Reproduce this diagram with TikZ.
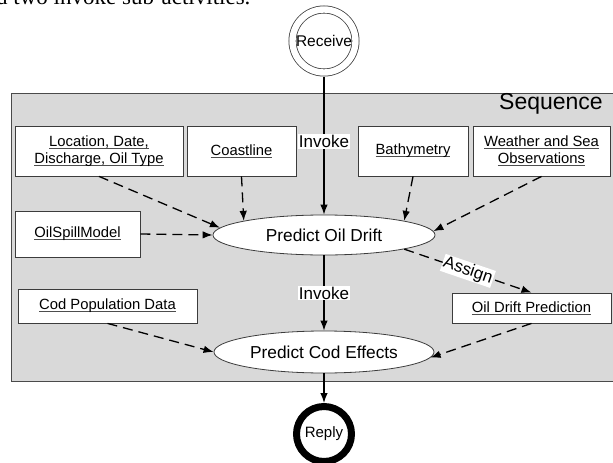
\documentclass[tikz,border=0pt]{standalone}
\usepackage{fontspec}
\setmainfont{Liberation Sans}
\newfontfamily\captionserif{Liberation Serif}
\usetikzlibrary{arrows.meta,shapes.geometric}

\definecolor{seqgray}{HTML}{D9D9D9}
\definecolor{framegray}{HTML}{4A4A4A}
\definecolor{boxline}{HTML}{3C3C3C}
\definecolor{ulcolor}{HTML}{4D4D4D}

% underline at a fixed depth, crossing descenders
\newlength\undlwidth
\newcommand\undl[1]{\settowidth\undlwidth{#1}\rlap{\textcolor{ulcolor}{\rule[-2pt]{\undlwidth}{0.8pt}}}#1}

\tikzset{
  datbox/.style={draw=boxline, line width=0.8pt, fill=white, align=center,
    inner sep=0pt, font=\fontsize{14.8}{17}\selectfont},
  activity/.style={ellipse, draw=boxline, line width=0.8pt, fill=white,
    inner sep=0pt, font=\fontsize{17.3}{20}\selectfont},
  flow/.style={-{Latex[length=10pt,width=7.5pt]}, line width=1.3pt},
  dataflow/.style={flow, dash pattern=on 10pt off 6pt},
  tag/.style={fill=white, inner sep=1pt, font=\fontsize{17}{20}\selectfont},
}

\begin{document}
\begin{tikzpicture}[x=1pt,y=-1pt]
\useasboundingbox (0,0) rectangle (613,463);

% tail of the preceding text line
\begin{scope}
  \clip (0,0) rectangle (613,463);
  \node[anchor=base west, inner sep=0pt, font=\captionserif\fontsize{23}{25}\selectfont]
    (prevline) at (-4,5) {d two invoke sub-activities.};
\end{scope}

% sequence container
\node[draw=framegray, fill=seqgray, line width=0.8pt, inner sep=0pt,
  minimum width=603pt, minimum height=288pt, anchor=north west] (seq) at (11,93) {};
\node[anchor=base east, inner sep=0pt, font=\fontsize{23}{25}\selectfont]
  (seqlabel) at (603,109) {Sequence};

% start and end events
\node[circle, draw=black!75, line width=0.8pt, double=white, double distance=6.4pt,
  minimum size=63pt, inner sep=0pt, outer sep=4.4pt, font=\fontsize{15.5}{17}\selectfont]
  (receive) at (324,41) {Receive};
\node[circle, draw=black, fill=white, line width=7pt, minimum size=55pt, inner sep=0pt,
  font=\fontsize{15}{17}\selectfont] (reply) at (324,434) {Reply};

% activities
\node[activity, minimum width=222pt, minimum height=40pt] (drift) at (324,235) {Predict Oil Drift};
\node[activity, minimum width=220pt, minimum height=42pt] (cod) at (324,352) {Predict Cod Effects};

% data items
\node[datbox, minimum width=168pt, minimum height=50pt] (loc) at (99,151)
  {\undl{Location, Date,}\\\undl{Discharge, Oil Type}};
\node[datbox, minimum width=109pt, minimum height=50pt] (coast) at (241.5,151) {\undl{Coastline}};
\node[datbox, minimum width=110pt, minimum height=50pt] (bathy) at (413,151) {\undl{Bathymetry}};
\node[datbox, minimum width=137pt, minimum height=50pt] (weather) at (541.5,151)
  {\undl{Weather and Sea}\\\undl{Observations}};
\node[datbox, minimum width=125pt, minimum height=46pt] (model) at (77.5,234) {\undl{OilSpillModel}};
\node[datbox, minimum width=179pt, minimum height=34pt] (codpop) at (107.5,306) {\undl{Cod Population Data}};
\node[datbox, minimum width=159pt, minimum height=30pt] (odp) at (531.5,308) {\undl{Oil Drift Prediction}};

% control flow
\draw[flow] (receive.south) -- node[tag, pos=0.47] (invokeA) {Invoke} (drift.north);
\draw[flow] (drift.south) -- node[tag, pos=0.5] (invokeB) {Invoke} (cod.north);
\draw[flow] (cod.south) -- (reply.north);

% data flow
\draw[dataflow] (loc.south) -- (drift.176);
\draw[dataflow] (coast.south) -- (drift.170);
\draw[dataflow] (bathy.south) -- (drift.10);
\draw[dataflow] (weather.south) -- (drift.2.5);
\draw[dataflow] (model.east) -- (drift.west);
\draw[dataflow] (drift.-10.3) -- node[tag, sloped, pos=0.5] (assign) {Assign} (odp.north);
\draw[dataflow] (codpop.south) -- (cod.west);
\draw[dataflow] (odp.south) -- (cod.-3);
\end{tikzpicture}
\end{document}
